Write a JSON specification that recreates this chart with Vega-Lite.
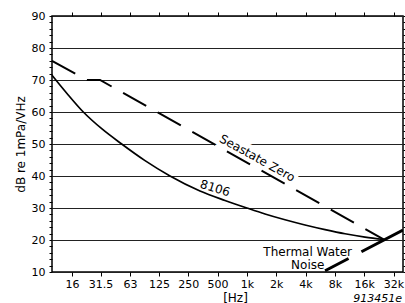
{
  "$schema": "https://vega.github.io/schema/vega-lite/v6.json",
  "width": 351,
  "height": 256,
  "autosize": {"type": "none"},
  "padding": {"left": 52, "top": 16, "right": 2, "bottom": 31},
  "background": "white",
  "config": {
    "view": {"stroke": "black", "strokeWidth": 1.5},
    "font": "DejaVu Sans",
    "axis": {"labelFont": "DejaVu Sans", "labelFontSize": 11, "labelColor": "black", "tickColor": "black", "domain": false, "titleFont": "DejaVu Sans", "titleFontWeight": "normal", "titleColor": "black", "labelOverlap": false, "labelFlush": false}
  },
  "datasets": {
    "s8106": [
      {"f": 10, "db": 71.5},
      {"f": 14.25, "db": 65.8},
      {"f": 20.96, "db": 60},
      {"f": 32.6, "db": 54.7},
      {"f": 51.9, "db": 50},
      {"f": 90.1, "db": 44.8},
      {"f": 162.6, "db": 40},
      {"f": 330, "db": 35.3},
      {"f": 596, "db": 32.35},
      {"f": 1000, "db": 30},
      {"f": 1535, "db": 28.14},
      {"f": 2462, "db": 26.33},
      {"f": 3950, "db": 24.7},
      {"f": 6340, "db": 23.25},
      {"f": 10170, "db": 21.95},
      {"f": 16310, "db": 20.9},
      {"f": 25550, "db": 20.15}
    ],
    "seastate": [
      {"f": 10, "db": 76},
      {"f": 22.9, "db": 70},
      {"f": 31.1, "db": 70},
      {"f": 25550, "db": 20.15}
    ],
    "thermal": [
      {"f": 6340, "db": 10.4},
      {"f": 40000, "db": 23.1}
    ]
  },
  "layer": [
    {
      "data": {"values": [{"label": "Seastate Zero", "f": 1168, "db": 43.4}]},
      "mark": {"type": "text", "angle": 29, "align": "center", "baseline": "alphabetic", "dy": -4, "fontSize": 12, "fill": "white", "stroke": "white", "strokeWidth": 9, "strokeJoin": "round"},
      "encoding": {
        "x": {"field": "f", "type": "quantitative", "scale": {"type": "log", "domain": [10, 40000], "nice": false},
          "axis": {"orient": "bottom", "values": [16, 31.5, 63, 125, 250, 500, 1000, 2000, 4000, 8000, 16000, 32000],
            "labelExpr": "datum.value >= 1000 ? (datum.value/1000) + 'k' : '' + datum.value",
            "tickSize": 4, "labelPadding": 2, "grid": false,
            "title": "[Hz]", "titleFontSize": 12, "titleX": 183, "titleY": 29, "titleBaseline": "alphabetic"}},
        "y": {"field": "db", "type": "quantitative", "scale": {"domain": [10, 90], "nice": false},
          "axis": {"orient": "left", "values": [10,12,14,16,18,20,22,24,26,28,30,32,34,36,38,40,42,44,46,48,50,52,54,56,58,60,62,64,66,68,70,72,74,76,78,80,82,84,86,88,90],
            "labelExpr": "datum.value % 10 == 0 ? datum.label : ''",
            "tickSize": 3, "labelPadding": 4, "grid": true, "gridColor": "#222", "gridWidth": 1.2,
            "gridOpacity": {"condition": {"test": "datum.value % 10 == 0", "value": 1}, "value": 0},
            "title": "dB re 1mPa/VHz", "titleFontSize": 12, "titlePadding": 4}},
        "text": {"field": "label"}
      }
    },
    {
      "data": {"name": "s8106"},
      "mark": {"type": "line", "color": "black", "strokeWidth": 1.7, "interpolate": "monotone"},
      "encoding": {
        "x": {"field": "f", "type": "quantitative", "scale": {"type": "log", "domain": [10, 40000], "nice": false},
          "axis": {"orient": "top", "values": [16, 31.5, 63, 125, 250, 500, 1000, 2000, 4000, 8000, 16000, 32000], "labels": false, "tickSize": 4, "grid": false, "title": null}},
        "y": {"field": "db", "type": "quantitative", "scale": {"domain": [10, 90], "nice": false},
          "axis": {"orient": "right", "values": [10,12,14,16,18,20,22,24,26,28,30,32,34,36,38,40,42,44,46,48,50,52,54,56,58,60,62,64,66,68,70,72,74,76,78,80,82,84,86,88,90], "labels": false, "tickSize": 3, "grid": false, "title": null}}
      }
    },
    {
      "data": {"name": "seastate"},
      "mark": {"type": "line", "color": "black", "strokeWidth": 2, "strokeDash": [26.5, 13.2]},
      "encoding": {
        "x": {"field": "f", "type": "quantitative", "axis": null},
        "y": {"field": "db", "type": "quantitative", "axis": null}
      }
    },
    {
      "data": {"name": "thermal"},
      "mark": {"type": "line", "color": "black", "strokeWidth": 3, "strokeDash": [26.5, 14.5, 60, 14.5], "clip": true},
      "encoding": {
        "x": {"field": "f", "type": "quantitative", "axis": null},
        "y": {"field": "db", "type": "quantitative", "axis": null}
      }
    },
    {
      "data": {"values": [{"label": "Seastate Zero", "f": 1168, "db": 43.4}]},
      "mark": {"type": "text", "angle": 29, "align": "center", "baseline": "alphabetic", "dy": -4, "fontSize": 12, "color": "black"},
      "encoding": {
        "x": {"field": "f", "type": "quantitative", "axis": null},
        "y": {"field": "db", "type": "quantitative", "axis": null},
        "text": {"field": "label"}
      }
    },
    {
      "data": {"values": [{"label": "8106", "f": 472, "db": 36.2}]},
      "mark": {"type": "text", "angle": 17, "align": "center", "baseline": "middle", "fontSize": 12, "color": "black"},
      "encoding": {
        "x": {"field": "f", "type": "quantitative", "axis": null},
        "y": {"field": "db", "type": "quantitative", "axis": null},
        "text": {"field": "label"}
      }
    },
    {
      "data": {"values": [{"label": "Thermal Water\nNoise", "f": 4208, "db": 16.4}]},
      "mark": {"type": "text", "align": "center", "baseline": "middle", "fontSize": 12, "lineHeight": 13, "lineBreak": "\n", "color": "black"},
      "encoding": {
        "x": {"field": "f", "type": "quantitative", "axis": null},
        "y": {"field": "db", "type": "quantitative", "axis": null},
        "text": {"field": "label"}
      }
    },
    {
      "data": {"values": [{"label": "913451e", "f": 40000, "db": 10}]},
      "mark": {"type": "text", "align": "right", "baseline": "alphabetic", "dx": -1, "dy": 29.5, "fontSize": 11, "fontStyle": "italic", "color": "black"},
      "encoding": {
        "x": {"field": "f", "type": "quantitative", "axis": null},
        "y": {"field": "db", "type": "quantitative", "axis": null},
        "text": {"field": "label"}
      }
    }
  ],
  "resolve": {"axis": {"x": "independent", "y": "independent"}}
}
